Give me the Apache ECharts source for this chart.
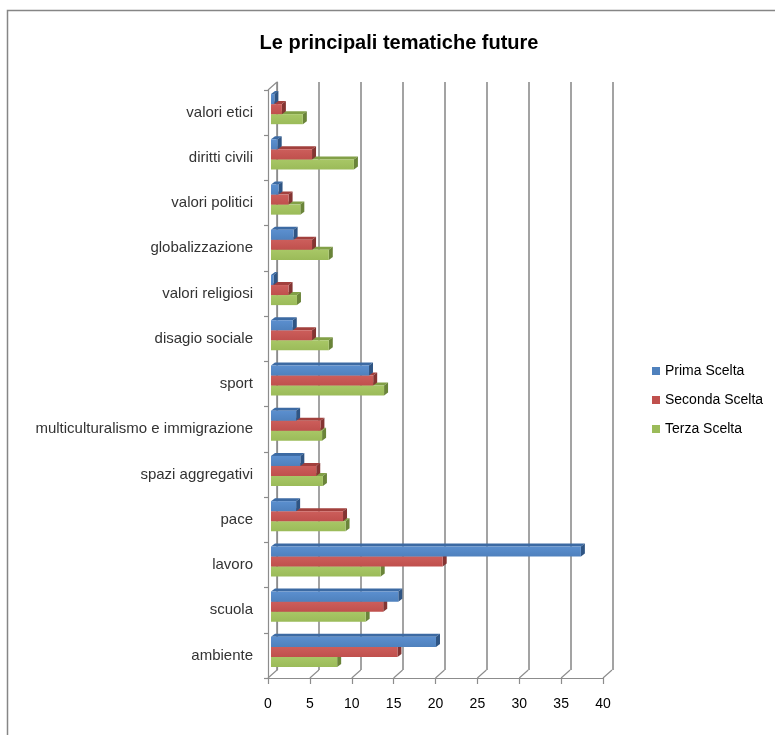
<!DOCTYPE html>
<html>
<head>
<meta charset="utf-8">
<script src="https://cdn.jsdelivr.net/npm/echarts@6/dist/echarts.min.js"></script>
<style>
  html, body { margin: 0; padding: 0; background: #fff; }
  #chart { width: 775px; height: 735px; }
</style>
</head>
<body>
<div id="chart"></div>
<script>
// Categories listed bottom-up (category axis starts at the bottom)
const categories = [
  'ambiente', 'scuola', 'lavoro', 'pace', 'spazi aggregativi',
  'multiculturalismo e immigrazione', 'sport', 'disagio sociale',
  'valori religiosi', 'globalizzazione', 'valori politici',
  'diritti civili', 'valori etici'
];
const primaScelta   = [19.7, 15.2, 37.0, 3.0, 3.5, 3.0, 11.7, 2.6, 0.3, 2.7, 0.9, 0.8, 0.4];
const secondaScelta = [15.1, 13.4, 20.5, 8.6, 5.4, 5.9, 12.2, 4.9, 2.1, 4.9, 2.1, 4.9, 1.3];
const terzaScelta   = [ 7.9, 11.3, 13.1, 8.9, 6.2, 6.1, 13.5, 6.9, 3.1, 6.9, 3.5, 9.9, 3.8];
const seriesNames = ['Prima Scelta', 'Seconda Scelta', 'Terza Scelta'];
const valueTicks = [0, 5, 10, 15, 20, 25, 30, 35, 40];

const FONT = '"Liberation Sans", Arial, sans-serif';
const AXIS_GREY = '#8c8c8c';

const palettes = [
  { front: '#4f81bd', light: '#5b8fcf', top: '#3c6aa3', side: '#2f5584' },
  { front: '#c0504d', light: '#cc5e5b', top: '#a2403d', side: '#843432' },
  { front: '#9bbb59', light: '#a8c766', top: '#82a047', side: '#6a8439' }
];

// Bar depth offsets for the extruded look
const DX = 4, DY = 3;

function barSeries(k, values) {
  const pal = palettes[k];
  return {
    type: 'custom',
    name: seriesNames[k],
    xAxisIndex: 1,
    yAxisIndex: 1,
    z: 10 - k,
    itemStyle: { color: pal.front },
    encode: { x: 0, y: 1 },
    data: categories.map((c, i) => [values[i], c]),
    renderItem: function (params, api) {
      const v = api.value(0);
      const cat = api.value(1);
      const base = api.coord([0, cat]);
      const end = api.coord([v, cat]);
      const band = api.size([0, 1])[1];
      const h = band * 0.222;
      const groupTop = base[1] - 1.5 * h - band * 0.077;
      const y0 = groupTop + k * h;
      const x0 = base[0] + 3;
      const x1 = end[0] + 3;
      return {
        type: 'group',
        children: [
          {
            type: 'polygon',
            shape: { points: [[x0, y0], [x1, y0], [x1 + DX, y0 - DY], [x0 + DX, y0 - DY]] },
            style: { fill: pal.top }
          },
          {
            type: 'polygon',
            shape: { points: [[x1, y0], [x1 + DX, y0 - DY], [x1 + DX, y0 + h - DY], [x1, y0 + h]] },
            style: { fill: pal.side }
          },
          {
            type: 'rect',
            shape: { x: x0, y: y0, width: Math.max(x1 - x0, 0), height: h },
            style: {
              fill: new echarts.graphic.LinearGradient(0, 0, 0, 1, [
                { offset: 0, color: pal.light },
                { offset: 1, color: pal.front }
              ])
            }
          }
        ]
      };
    }
  };
}

// Floor edges joining each front tick to its back-wall gridline
const floorSeries = {
  type: 'custom',
  name: 'floor',
  xAxisIndex: 1,
  yAxisIndex: 1,
  silent: true,
  z: 1,
  encode: { x: 0 },
  data: valueTicks.map(t => [t, categories[0]]),
  renderItem: function (params, api) {
    const p = api.coord([api.value(0), 0]);
    const band = api.size([0, 1])[1];
    const yb = p[1] + band / 2;
    const children = [{
      type: 'line',
      shape: { x1: p[0], y1: yb, x2: p[0] + 9, y2: yb - 8 },
      style: { stroke: AXIS_GREY, lineWidth: 1.2 }
    }];
    if (params.dataIndex === 0) {
      const q = api.coord([0, categories.length - 1]);
      const yt = q[1] - band / 2;
      children.push({
        type: 'line',
        shape: { x1: q[0], y1: yt, x2: q[0] + 9, y2: yt - 8 },
        style: { stroke: AXIS_GREY, lineWidth: 1.2 }
      });
    }
    return { type: 'group', children };
  }
};

const chart = echarts.init(document.getElementById('chart'), null, { renderer: 'canvas' });

chart.setOption({
  backgroundColor: '#ffffff',
  animation: false,
  title: {
    text: 'Le principali tematiche future',
    left: 394,
    top: 28,
    textAlign: 'center',
    textStyle: { fontFamily: FONT, fontSize: 20, fontWeight: 'bold', color: '#000' }
  },
  graphic: [{
    type: 'rect',
    left: 5, top: 8,
    shape: { width: 790, height: 760 },
    style: { fill: 'none', stroke: '#868686', lineWidth: 1.5 },
    silent: true
  }],
  legend: {
    orient: 'vertical',
    left: 647,
    top: 359,
    itemWidth: 8,
    itemHeight: 8,
    itemGap: 15,
    icon: 'rect',
    data: seriesNames,
    textStyle: { fontFamily: FONT, fontSize: 14, color: '#000', padding: [0, 0, 0, 0] }
  },
  grid: [
    // back wall
    { left: 277, top: 82, width: 336, height: 588, containLabel: false },
    // front plane
    { left: 268, top: 90, width: 335, height: 588, containLabel: false }
  ],
  xAxis: [
    {
      gridIndex: 0, type: 'value', min: 0, max: 40, interval: 5,
      axisLine: { show: false }, axisTick: { show: false }, axisLabel: { show: false },
      splitLine: { show: true, lineStyle: { color: '#a3a3a3', width: 2 } }
    },
    {
      gridIndex: 1, type: 'value', min: 0, max: 40, interval: 5,
      axisLine: { show: true, lineStyle: { color: AXIS_GREY, width: 1.2 } },
      axisTick: { show: true, length: 6, lineStyle: { color: AXIS_GREY, width: 1.2 } },
      axisLabel: { fontFamily: FONT, fontSize: 14, color: '#000', margin: 19 },
      splitLine: { show: false }
    }
  ],
  yAxis: [
    {
      gridIndex: 0, type: 'category', data: categories,
      axisLine: { show: true, lineStyle: { color: AXIS_GREY, width: 1.2 } },
      axisTick: { show: false }, axisLabel: { show: false }, splitLine: { show: false }
    },
    {
      gridIndex: 1, type: 'category', data: categories,
      axisLine: { show: true, lineStyle: { color: AXIS_GREY, width: 1.2 } },
      axisTick: { show: true, length: 4, lineStyle: { color: AXIS_GREY, width: 1.2 } },
      axisLabel: { fontFamily: FONT, fontSize: 15, color: '#333', margin: 15 },
      splitLine: { show: false }
    }
  ],
  series: [
    floorSeries,
    barSeries(0, primaScelta),
    barSeries(1, secondaScelta),
    barSeries(2, terzaScelta)
  ]
});
</script>
</body>
</html>
